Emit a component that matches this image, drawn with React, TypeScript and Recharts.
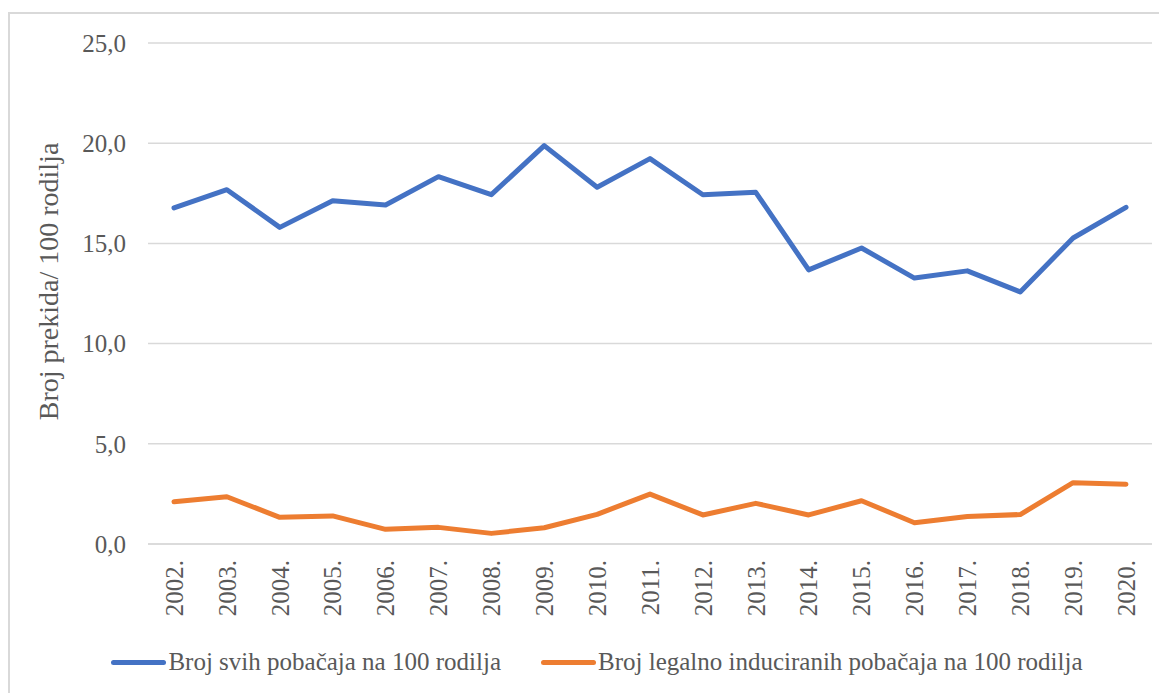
import React from "react";
import { LineChart, Line, XAxis, YAxis, CartesianGrid, Legend } from "recharts";

const years = ["2002.", "2003.", "2004.", "2005.", "2006.", "2007.", "2008.", "2009.", "2010.", "2011.", "2012.", "2013.", "2014.", "2015.", "2016.", "2017.", "2018.", "2019.", "2020."];
const allAbortions = [16.77, 17.68, 15.8, 17.13, 16.92, 18.33, 17.43, 19.88, 17.8, 19.23, 17.43, 17.55, 13.68, 14.77, 13.27, 13.63, 12.58, 15.27, 16.8];
const legalInduced = [2.11, 2.36, 1.33, 1.4, 0.73, 0.83, 0.53, 0.81, 1.48, 2.49, 1.45, 2.03, 1.45, 2.16, 1.06, 1.37, 1.47, 3.06, 2.98];
const yTicks = [0, 5, 10, 15, 20, 25];
const seriesNames = ["Broj svih pobačaja na 100 rodilja", "Broj legalno induciranih pobačaja na 100 rodilja"];
const yAxisTitle = "Broj prekida/ 100 rodilja";

const data = years.map((y, i) => ({ year: y, all: allAbortions[i], legal: legalInduced[i] }));

const FONT = "'Liberation Serif', 'DejaVu Serif', serif";
const TEXT = "#595959";

const XTick = (props: any) => {
  const { x, y, payload } = props;
  return (
    <text x={x} y={y} transform={`rotate(-90, ${x}, ${y})`} textAnchor="end" dy="0.35em" fill={TEXT} fontSize={25} fontFamily={FONT}>
      {payload.value}
    </text>
  );
};

const YLabel = (props: any) => {
  const vb = props.viewBox || {};
  const cx = 40;
  const cy = vb.y + vb.height / 2 - 12;
  return (
    <text x={cx} y={cy} transform={`rotate(-90, ${cx}, ${cy})`} textAnchor="middle" dy="0.35em" fill={TEXT} fontSize={28} fontFamily={FONT}>
      {yAxisTitle}
    </text>
  );
};

const LegendContent = (props: any) => {
  const items = [...(props.payload || [])].sort(
    (a: any, b: any) => seriesNames.indexOf(a.value) - seriesNames.indexOf(b.value)
  );
  return (
    <div style={{ display: "flex", justifyContent: "center", alignItems: "center", paddingLeft: 19, fontFamily: FONT, fontSize: 25, color: TEXT }}>
      {items.map((it: any, i: number) => (
        <div key={i} style={{ display: "flex", alignItems: "center", marginLeft: i === 0 ? 0 : 40 }}>
          <div style={{ width: 55, height: 5, borderRadius: 3, background: it.color, marginRight: 2 }} />
          <span style={{ whiteSpace: "nowrap" }}>{it.value}</span>
        </div>
      ))}
    </div>
  );
};

export default function App() {
  return (
    <div style={{ position: "relative", width: 1159, height: 685, overflow: "hidden" }}>
      <div style={{ position: "absolute", left: 0, top: 4, width: 1300, height: 800, borderLeft: "2px solid #d9d9d9", borderTop: "2px solid #d9d9d9", boxSizing: "border-box" }} />
      <div style={{ position: "absolute", left: 0, top: 0 }}>
        <LineChart width={1159} height={685} data={data} margin={{ top: 35, right: 15, bottom: 49, left: 0 }}>
          <CartesianGrid vertical={false} stroke="#d9d9d9" strokeWidth={1.5} />
          <XAxis
            dataKey="year"
            interval={0}
            padding={{ left: 26, right: 26 }}
            tickLine={false}
            axisLine={{ stroke: "#d9d9d9", strokeWidth: 1.5 }}
            tickSize={0}
            tickMargin={16}
            height={100}
            tick={<XTick />}
          />
          <YAxis
            domain={[0, 25]}
            ticks={yTicks}
            width={140}
            tickLine={false}
            axisLine={false}
            tickSize={0}
            tickMargin={22}
            tickFormatter={(v: number) => v.toFixed(1).replace(".", ",")}
            tick={{ fill: TEXT, fontSize: 25, fontFamily: FONT }}
            label={<YLabel />}
          />
          <Legend verticalAlign="middle" itemSorter={null as any} wrapperStyle={{ top: 640, left: 0, width: 1159 }} content={<LegendContent />} />
          <Line type="linear" dataKey="all" name={seriesNames[0]} stroke="#4472C4" strokeWidth={5} dot={false} isAnimationActive={false} strokeLinejoin="round" strokeLinecap="round" />
          <Line type="linear" dataKey="legal" name={seriesNames[1]} stroke="#ED7D31" strokeWidth={5} dot={false} isAnimationActive={false} strokeLinejoin="round" strokeLinecap="round" />
        </LineChart>
      </div>
    </div>
  );
}
